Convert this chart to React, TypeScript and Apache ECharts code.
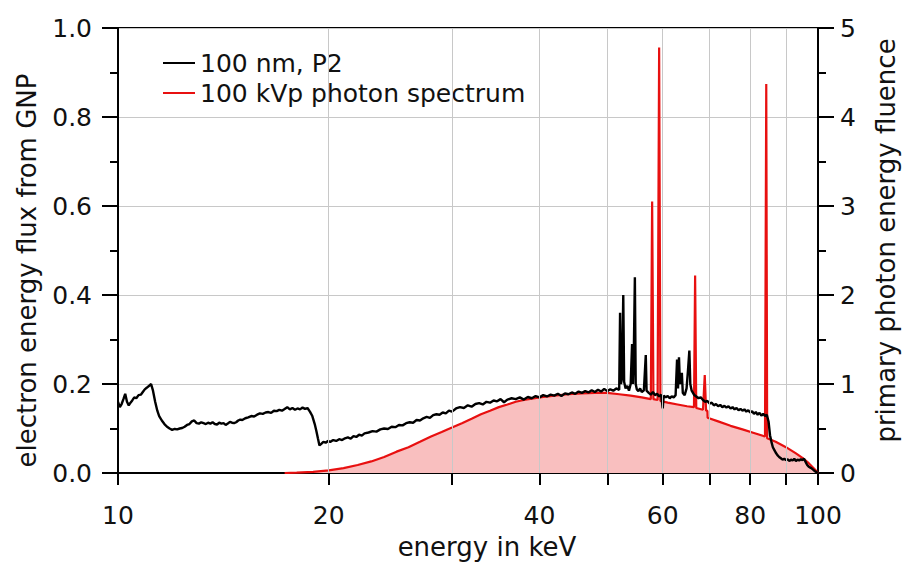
import React, { useEffect, useRef } from "react";
import * as echarts from "echarts";

// ---- Data ----
// Black curve: electron energy flux from GNP (left axis), energy in keV
const blackEnergy = [
  10.0, 10.06, 10.12, 10.18, 10.24, 10.3, 10.36, 10.42, 10.48, 10.55, 10.62, 10.7, 10.78, 10.85, 10.92, 11.0,
  11.08, 11.15, 11.22, 11.3, 11.38, 11.45, 11.55, 11.65, 11.75, 11.85, 11.95, 12.05, 12.15, 12.25, 12.35, 12.45,
  12.55, 12.65, 12.75, 12.85, 12.95, 13.05, 13.15, 13.25, 13.35, 13.45, 13.55, 13.65, 13.75, 13.85, 13.95, 14.05,
  14.15, 14.25, 14.35, 14.45, 14.55, 14.65, 14.75, 14.85, 14.95, 15.05, 15.2, 15.35, 15.5, 15.65, 15.8, 15.95,
  16.1, 16.25, 16.4, 16.55, 16.7, 16.85, 17.0, 17.15, 17.3, 17.45, 17.6, 17.75, 17.9, 18.05, 18.2, 18.35, 18.5,
  18.65, 18.8, 18.95, 19.1, 19.2, 19.3, 19.4, 19.5, 19.65, 19.8, 19.95, 20.1, 20.3, 20.5, 20.7, 20.9, 21.1, 21.3,
  21.5, 21.7, 21.9, 22.1, 22.3, 22.5, 22.8, 23.1, 23.4, 23.7, 24.0, 24.3, 24.6, 24.9, 25.2, 25.5, 25.8, 26.1,
  26.4, 26.7, 27.0, 27.3, 27.6, 27.9, 28.2, 28.5, 28.8, 29.1, 29.4, 29.7, 30.0, 30.4, 30.8, 31.2, 31.6, 32.0,
  32.4, 32.8, 33.2, 33.6, 34.0, 34.4, 34.8, 35.2, 35.6, 36.0, 36.5, 37.0, 37.5, 38.0, 38.5, 39.0, 39.5, 40.0,
  40.5, 41.0, 41.5, 42.0, 42.5, 43.0, 43.5, 44.0, 44.5, 45.0, 45.5, 46.0, 46.5, 47.0, 47.5, 48.0, 48.5, 49.0,
  49.5, 50.0, 50.5, 51.0, 51.5, 52.0, 52.15, 52.3, 52.5, 52.7, 52.85, 53.1, 53.4, 53.7, 54.0, 54.25, 54.4, 54.55,
  54.75, 54.9, 55.1, 55.4, 55.7, 56.0, 56.4, 56.75, 56.9, 57.3, 57.7, 58.1, 58.5, 58.9, 59.3, 59.7, 60.0, 60.2,
  60.6, 61.0, 61.4, 61.8, 62.2, 62.6, 62.9, 63.1, 63.3, 63.5, 63.9, 64.1, 64.5, 64.9, 65.2, 65.5, 65.7, 66.0,
  66.5, 67.0, 67.5, 68.0, 68.5, 69.0, 69.5, 70.0, 70.5, 71.0, 71.5, 72.0, 72.5, 73.0, 73.5, 74.0, 74.5, 75.0,
  75.5, 76.0, 76.5, 77.0, 77.5, 78.0, 78.5, 79.0, 79.5, 80.0, 80.5, 81.0, 81.5, 82.0, 82.5, 83.0, 83.5, 84.0,
  84.5, 85.0, 85.4, 85.8, 86.2, 86.6, 87.0, 87.5, 88.0, 88.5, 89.0, 89.5, 90.0, 90.5, 91.0, 91.5, 92.0, 92.5,
  93.0, 93.5, 94.0, 94.5, 95.0, 95.5, 96.0, 96.5, 97.0, 97.5, 98.0, 98.5, 99.0, 99.5, 100.0,
];
const blackFlux = [
  0.16, 0.148, 0.155, 0.166, 0.178, 0.16, 0.152, 0.158, 0.163, 0.17, 0.168, 0.175, 0.176, 0.182, 0.188, 0.192,
  0.196, 0.2, 0.185, 0.16, 0.14, 0.128, 0.118, 0.11, 0.104, 0.1, 0.097, 0.099, 0.098, 0.1, 0.101, 0.104,
  0.108, 0.11, 0.116, 0.118, 0.112, 0.111, 0.114, 0.112, 0.11, 0.113, 0.111, 0.114, 0.11, 0.109, 0.113, 0.111,
  0.112, 0.108, 0.111, 0.115, 0.113, 0.112, 0.114, 0.118, 0.12, 0.119, 0.123, 0.125, 0.128, 0.127, 0.131, 0.134,
  0.133, 0.136, 0.137, 0.135, 0.14, 0.139, 0.142, 0.14, 0.144, 0.148, 0.143, 0.146, 0.142, 0.145, 0.143, 0.147, 0.144,
  0.146, 0.138, 0.128, 0.11, 0.095, 0.078, 0.062, 0.065, 0.07, 0.068, 0.072, 0.07, 0.074, 0.072, 0.076, 0.074, 0.078, 0.08,
  0.077, 0.083, 0.081, 0.086, 0.084, 0.089, 0.091, 0.094, 0.093, 0.098, 0.1, 0.099, 0.104, 0.103, 0.108, 0.107, 0.112, 0.114,
  0.113, 0.119, 0.118, 0.123, 0.126, 0.124, 0.13, 0.132, 0.131, 0.136, 0.134, 0.14, 0.138, 0.145, 0.148, 0.146, 0.152, 0.149,
  0.155, 0.157, 0.154, 0.16, 0.158, 0.163, 0.161, 0.166, 0.159, 0.165, 0.168, 0.166, 0.17, 0.165, 0.171, 0.168, 0.173, 0.17,
  0.175, 0.172, 0.176, 0.174, 0.178, 0.173, 0.179, 0.177, 0.181, 0.178, 0.183, 0.18, 0.184, 0.181, 0.186, 0.182, 0.187, 0.183,
  0.189, 0.184, 0.188, 0.185, 0.19, 0.187, 0.36, 0.2, 0.215, 0.4, 0.205, 0.19, 0.196, 0.185, 0.2, 0.29, 0.2, 0.26,
  0.44, 0.2, 0.188, 0.184, 0.19, 0.182, 0.186, 0.265, 0.185, 0.18, 0.176, 0.182, 0.175, 0.178, 0.172, 0.176, 0.145, 0.174,
  0.17, 0.173, 0.168, 0.172, 0.17, 0.175, 0.255, 0.19, 0.26, 0.2, 0.225, 0.18, 0.175, 0.19, 0.23, 0.275, 0.2, 0.185,
  0.176, 0.172, 0.168, 0.17, 0.164, 0.16, 0.162, 0.156, 0.158, 0.152, 0.155, 0.15, 0.153, 0.148, 0.151, 0.147, 0.15, 0.145,
  0.148, 0.143, 0.146, 0.141, 0.144, 0.14, 0.143, 0.138, 0.141, 0.136, 0.139, 0.133, 0.137, 0.131, 0.135, 0.129, 0.133, 0.128,
  0.131, 0.115, 0.085, 0.07, 0.058, 0.052, 0.046, 0.04, 0.036, 0.033, 0.03, 0.032, 0.029, 0.031, 0.027, 0.03, 0.028, 0.032,
  0.027, 0.03, 0.028, 0.031, 0.029, 0.032, 0.025, 0.018, 0.014, 0.012, 0.01, 0.007, 0.004, 0.002, 0.0,
];

// Red curve: 100 kVp primary photon energy fluence (right axis)
const redEnergy = [
  17.3, 18, 19, 20, 21, 22, 23, 24, 25, 26, 27, 28, 29, 30, 31, 32, 33, 34, 35, 36, 37, 38, 39, 40, 42, 44, 46,
  48, 50, 52, 54, 56, 57.7, 57.95, 58.2, 59.0, 59.3, 59.55, 61, 63, 65, 66.5, 66.75, 67.0, 68.5, 68.9, 69.2, 69.5,
  69.55, 72, 75, 78, 81, 84, 84.35, 84.6, 87, 90, 93, 95, 97, 99, 100,
];
const redFluence = [
  0, 0.004, 0.012, 0.03, 0.055, 0.09, 0.13, 0.18, 0.24, 0.29, 0.35, 0.41, 0.46, 0.51, 0.56, 0.61, 0.66, 0.7, 0.74,
  0.77, 0.8, 0.82, 0.835, 0.85, 0.87, 0.885, 0.895, 0.9, 0.9, 0.885, 0.87, 0.85, 0.83, 3.05, 0.83, 0.82, 4.78, 0.81,
  0.79, 0.77, 0.75, 0.74, 2.22, 0.73, 0.71, 1.1, 0.7, 0.7, 0.62, 0.58, 0.53, 0.49, 0.45, 0.41, 4.37, 0.39, 0.35,
  0.29, 0.22, 0.17, 0.11, 0.04, 0,
];

// Axis ticks / labels / gridlines (keV)
const xTickEnergies = [10, 20, 30, 40, 50, 60, 70, 80, 90, 100];
const xLabelEnergies = [10, 20, 40, 60, 80, 100];
const xGridEnergies = [20, 30, 40, 50, 60, 70, 80, 90];

const seriesNames = ["100 nm, P2", "100 kVp photon spectrum"];

const FONT = "DejaVu Sans";

export default function App() {
  const ref = useRef<HTMLDivElement>(null);

  useEffect(() => {
    if (!ref.current) return;
    const chart = echarts.init(ref.current, undefined, { renderer: "svg" });

    const blackData = blackEnergy.map((e, i) => [e, blackFlux[i]]);
    const redData = redEnergy.map((e, i) => [e, redFluence[i]]);

    const labelStyle = { fontFamily: FONT, fontSize: 25, color: "#111", lineHeight: 26 };

    chart.setOption({
      animation: false,
      backgroundColor: "#fff",
      grid: {
        left: 118,
        right: 86,
        top: 28,
        bottom: 93,
        containLabel: false,
        outerBoundsMode: "none",
        show: true,
        borderColor: "#000",
        borderWidth: 2,
        backgroundColor: "transparent",
      },
      legend: {
        data: seriesNames,
        orient: "vertical",
        left: 158,
        top: 45,
        itemWidth: 32,
        itemHeight: 2,
        itemGap: 4,
        icon: "rect",
        textStyle: { fontFamily: FONT, fontSize: 25, color: "#111", lineHeight: 26 },
      },
      xAxis: [
        {
          type: "log",
          logBase: 10,
          min: 10,
          max: 100,
          position: "top",
          show: false,
        },
        {
          type: "value",
          min: 1,
          max: 2,
          position: "bottom",
          name: "energy in keV",
          nameLocation: "middle",
          nameGap: 60,
          nameTextStyle: { fontFamily: FONT, fontSize: 26, color: "#111", lineHeight: 28, padding: [0, 0, 0, 38] },
          axisLine: { show: true, lineStyle: { color: "#000", width: 2 } },
          axisTick: {
            show: true,
            inside: false,
            length: 12,
            lineStyle: { color: "#000", width: 2 },
            customValues: xTickEnergies.map((e) => Math.log10(e)),
          },
          axisLabel: {
            ...labelStyle,
            margin: 29,
            customValues: xLabelEnergies.map((e) => Math.log10(e)),
            formatter: (v: number) => String(Math.round(Math.pow(10, v))),
          },
          splitLine: { show: false },
        },
      ],
      yAxis: [
        {
          type: "value",
          min: 0,
          max: 1,
          interval: 0.2,
          position: "left",
          name: "electron energy flux from GNP",
          nameLocation: "middle",
          nameRotate: 90,
          nameGap: 77,
          nameTextStyle: { fontFamily: FONT, fontSize: 26, color: "#111", lineHeight: 28, padding: [0, 40, 0, 0] },
          axisLine: { show: true, lineStyle: { color: "#000", width: 2 } },
          axisTick: { show: true, inside: false, length: 16, lineStyle: { color: "#000", width: 2 } },
          minorTick: { show: true, splitNumber: 2, length: 8, lineStyle: { color: "#000", width: 2 } },
          axisLabel: { ...labelStyle, margin: 26, formatter: (v: number) => v.toFixed(1) },
          splitLine: { show: true, lineStyle: { color: "#c8c8c8", width: 1 } },
        },
        {
          type: "value",
          min: 0,
          max: 5,
          interval: 1,
          position: "right",
          name: "primary photon energy fluence",
          nameLocation: "middle",
          nameRotate: 90,
          nameGap: 55,
          nameTextStyle: { fontFamily: FONT, fontSize: 26, color: "#111", lineHeight: 26, padding: [0, 0, 0, 20] },
          axisLine: { show: true, lineStyle: { color: "#000", width: 2 } },
          axisTick: { show: true, inside: false, length: 16, lineStyle: { color: "#000", width: 2 } },
          minorTick: { show: true, splitNumber: 2, length: 8, lineStyle: { color: "#000", width: 2 } },
          axisLabel: { ...labelStyle, margin: 22 },
          splitLine: { show: false },
        },
      ],
      series: [
        {
          name: seriesNames[1],
          type: "line",
          xAxisIndex: 0,
          yAxisIndex: 1,
          data: redData,
          symbol: "none",
          color: "#e81010",
          lineStyle: { color: "#e81010", width: 2.2 },
          areaStyle: { color: "#f9bfbf", opacity: 1 },
          z: 2,
          markLine: {
            silent: true,
            symbol: ["none", "none"],
            label: { show: false },
            lineStyle: { color: "#c8c8c8", width: 1, type: "solid" },
            emphasis: { disabled: true },
            data: xGridEnergies.map((e) => ({ xAxis: e })),
          },
        },
        {
          name: seriesNames[0],
          type: "line",
          xAxisIndex: 0,
          yAxisIndex: 0,
          data: blackData,
          symbol: "none",
          color: "#000",
          lineStyle: { color: "#000", width: 2.4 },
          z: 3,
        },
      ],
    });

    return () => chart.dispose();
  }, []);

  return (
    <div
      ref={ref}
      style={{ width: 904, height: 566, position: "fixed", left: 0, top: 0, background: "#fff" }}
    />
  );
}
